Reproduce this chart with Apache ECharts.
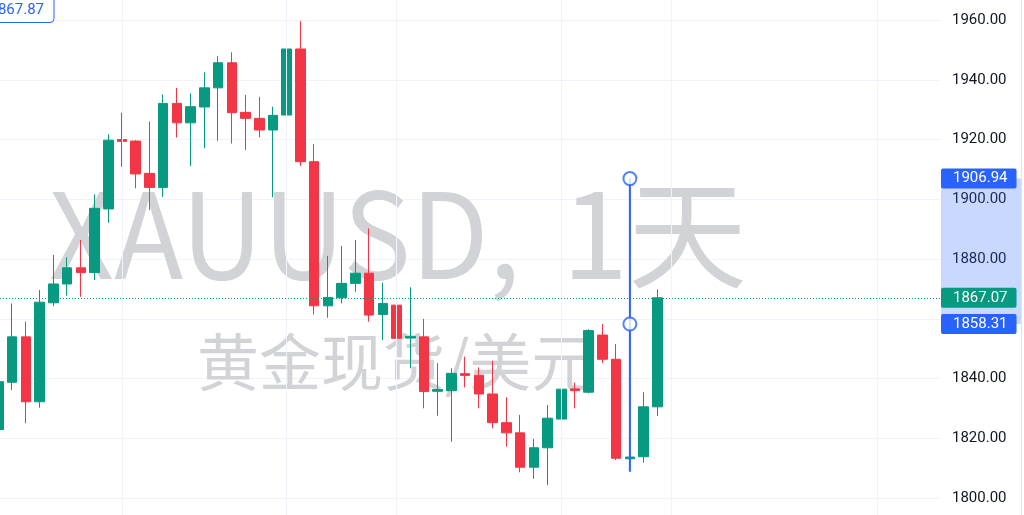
<!DOCTYPE html>
<html><head><meta charset="utf-8">
<script src="https://cdn.jsdelivr.net/npm/echarts@6/dist/echarts.min.js"></script>
<style>html,body{margin:0;padding:0;background:#fff;overflow:hidden}#c{width:1024px;height:515px}</style>
</head><body><div id="c"></div>
<script>
// ---- data ----
const opens  = [1823.0,1838.8,1854.0,1832.3,1865.4,1871.7,1877.1,1875.5,1896.8,1920.0,1919.5,1908.7,1904.0,1932.1,1925.6,1930.9,1937.3,1945.7,1929.1,1927.1,1923.2,1928.2,1950.3,1912.6,1864.4,1867.1,1871.9,1875.3,1861.5,1864.6,1853.6,1854.0,1835.8,1836.0,1841.7,1841.2,1834.9,1825.3,1821.9,1810.4,1816.9,1826.5,1836.6,1835.5,1854.6,1846.5,1813.2,1813.9,1830.6];
const closes = [1839.0,1854.0,1832.3,1865.6,1871.7,1877.1,1875.5,1897.0,1919.8,1919.4,1908.5,1904.0,1932.1,1925.6,1931.0,1937.3,1945.7,1929.0,1927.1,1923.2,1928.1,1950.3,1912.6,1864.4,1867.2,1871.9,1875.3,1861.3,1865.2,1853.5,1854.2,1835.7,1836.4,1841.8,1841.1,1834.9,1825.3,1821.9,1810.4,1816.9,1826.8,1836.5,1836.0,1856.1,1846.5,1813.4,1813.8,1830.6,1867.07];
const lows   = [1822.0,1836.2,1825.1,1830.3,1864.3,1867.8,1867.4,1873.0,1892.2,1910.9,1903.7,1896.4,1900.9,1920.7,1911.1,1917.1,1919.6,1918.7,1916.5,1920.7,1900.7,1920.6,1911.2,1861.5,1860.4,1865.2,1869.1,1859.1,1852.9,1850.5,1843.5,1830.1,1827.6,1818.9,1837.1,1830.1,1823.4,1817.3,1808.7,1806.5,1804.4,1823.1,1830.1,1835.1,1845.2,1812.8,1809.5,1811.9,1827.5];
const highs  = [1840.5,1865.2,1859.1,1869.7,1881.4,1880.6,1886.4,1901.7,1921.8,1929.0,1919.8,1926.0,1935.1,1937.3,1935.5,1942.5,1947.9,1949.2,1934.9,1934.3,1931.0,1954.4,1959.6,1918.5,1881.1,1884.4,1886.4,1890.3,1872.1,1866.3,1870.6,1860.0,1845.2,1843.5,1847.4,1843.8,1846.0,1833.8,1827.9,1819.8,1831.2,1844.3,1838.7,1856.6,1858.3,1851.6,1824.0,1835.5,1869.9];
const barIndexMin = 0.113, barIndexMax = 68.59;   // visible bar-index window (first bar cut at the left edge)
const verticalGridBars = [9, 21, 29, 41, 49, 64];
const yMin = 1800, yMax = 1960, yStep = 20;
const hiddenTickLabels = [1860];                  // covered by the price labels in the original
const lastPrice = 1867.07;
const rangeTop = 1906.94, rangeMid = 1858.31, rangeBottom = 1808.9;
const drawBar = 46;
const cornerLabel = '1867.87';
const watermark1a = 'XAUUSD,';
const watermark1b = '1天';
const watermark2 = '黄金现货/美元';

// ---- build ----
const candleData = opens.map((o, i) => [i, o, closes[i], lows[i], highs[i]]);
const GREEN = '#089981', RED = '#f23645', BLUE = '#2962ff', GRID = '#f0f3fa';
const FONT = 'Roboto, "Noto Sans", sans-serif';
const WM = '#d2d3d7';

function priceLabel(bg) {
  return {show: true, position: 'end', distance: 1, color: '#fff', backgroundColor: bg,
    fontFamily: FONT, fontSize: 15, lineHeight: 16, padding: [2, 9, 2, 12], borderRadius: 2,
    formatter: p => p.value.toFixed(2)};
}
const hiddenX = (gi) => ({type: 'value', gridIndex: gi, min: barIndexMin, max: barIndexMax,
  axisLine: {show: false}, axisTick: {show: false}, axisLabel: {show: false}, splitLine: {show: false}});

const chart = echarts.init(document.getElementById('c'), null, {renderer: 'canvas'});
chart.setOption({
  animation: false,
  backgroundColor: '#ffffff',
  grid: [
    {left: 0, right: 84, top: 20, bottom: 16.7},
    {left: 0, right: 84, top: 0, bottom: 0}
  ],
  xAxis: [hiddenX(0), hiddenX(1)],
  yAxis: [
    {type: 'value', gridIndex: 0, position: 'right', min: yMin, max: yMax, interval: yStep,
      axisLine: {show: false}, axisTick: {show: false},
      axisLabel: {margin: 12, color: '#131722', fontFamily: FONT, fontSize: 15,
        formatter: v => hiddenTickLabels.indexOf(v) >= 0 ? '' : v.toFixed(2)},
      splitLine: {show: true, lineStyle: {color: GRID, width: 1}}},
    {type: 'value', gridIndex: 1, show: false, min: 0, max: 1}
  ],
  series: [
    {type: 'line', xAxisIndex: 1, yAxisIndex: 1, z: 1, data: [], silent: true,
      markLine: {silent: true, symbol: ['none', 'none'], animation: false, label: {show: false},
        lineStyle: {color: GRID, width: 1, type: 'solid'},
        data: verticalGridBars.map(b => ({xAxis: b}))}},
    {type: 'candlestick', xAxisIndex: 0, yAxisIndex: 0, z: 2, data: candleData, barWidth: 10,
      itemStyle: {color: GREEN, color0: RED, borderColor: GREEN, borderColor0: RED, borderWidth: 1},
      markLine: {silent: true, symbol: ['none', 'none'], animation: false,
        data: [
          {yAxis: rangeTop, lineStyle: {color: 'rgba(0,0,0,0)', width: 0}, label: priceLabel(BLUE)},
          {yAxis: rangeMid, lineStyle: {color: 'rgba(0,0,0,0)', width: 0}, label: priceLabel(BLUE)},
          {yAxis: lastPrice, lineStyle: {color: GREEN, width: 1, type: [1, 2]}, label: priceLabel(GREEN)}
        ]}},
    {type: 'line', xAxisIndex: 0, yAxisIndex: 0, z: 5, showSymbol: false, silent: true,
      data: [[drawBar, rangeTop], [drawBar, rangeBottom]],
      lineStyle: {color: BLUE, width: 2}},
    {type: 'scatter', xAxisIndex: 0, yAxisIndex: 0, z: 6, silent: true, symbolSize: 13,
      data: [[drawBar, rangeTop], [drawBar, rangeMid]],
      itemStyle: {color: '#ffffff', borderColor: BLUE, borderWidth: 2}}
  ]
});

const pyTop = chart.convertToPixel({yAxisIndex: 0}, rangeTop);
const pyMid = chart.convertToPixel({yAxisIndex: 0}, rangeMid);
chart.setOption({
  graphic: [
    {type: 'text', x: 49, y: 234, z: 0, silent: true, scaleX: 0.952,
      style: {text: watermark1a, font: '119px "Noto Sans CJK SC", sans-serif', fill: WM, textVerticalAlign: 'middle'}},
    {type: 'text', x: 562, y: 234, z: 0, silent: true,
      style: {text: watermark1b, font: '119px "Noto Sans CJK SC", sans-serif', fill: WM, textVerticalAlign: 'middle'}},
    {type: 'text', x: 197, y: 362, z: 0, silent: true,
      style: {text: watermark2, font: '62px "Noto Sans CJK SC", sans-serif', fill: WM, textVerticalAlign: 'middle'}},
    {type: 'rect', z: 1, silent: true, shape: {x: 941, y: pyTop, width: 80.5, height: pyMid - pyTop},
      style: {fill: 'rgba(41,98,255,0.25)'}},
    {type: 'rect', z: 1, silent: true, shape: {x: 1021, y: 0, width: 1, height: 515}, style: {fill: '#e0e3eb'}},
    {type: 'rect', z: 10, silent: true, shape: {x: -20, y: -6, width: 74, height: 28.5, r: 4},
      style: {fill: '#ffffff', stroke: BLUE, lineWidth: 1}},
    {type: 'text', z: 11, silent: true, x: 44, y: 10,
      style: {text: cornerLabel, font: '15px Roboto, sans-serif', fill: BLUE, textAlign: 'right', textVerticalAlign: 'middle'}}
  ]
});
</script></body></html>
